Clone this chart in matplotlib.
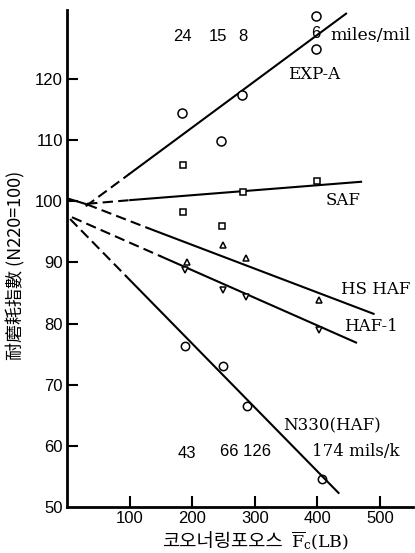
import matplotlib
matplotlib.use("Agg")
import matplotlib.pyplot as plt

# Measured wear-index points for each compound
exp_a_x = [184, 246, 280, 398, 398]
exp_a_y = [114.5, 109.8, 117.4, 130.4, 124.9]
saf_x = [186, 186, 248, 282, 400]
saf_y = [106.0, 98.3, 95.9, 101.5, 103.3]
hshaf_x = [192, 249, 286, 402]
hshaf_y = [90.1, 92.9, 90.7, 83.9]
haf1_x = [189, 250, 286, 402]
haf1_y = [88.8, 85.5, 84.4, 79.0]
n330_x = [189, 250, 287, 407]
n330_y = [76.3, 73.0, 66.5, 54.6]

# Fitted trend lines: dashed extrapolation part, then solid part
exp_a_dash_x, exp_a_dash_y = [30, 100], [99.2, 104.5]
exp_a_fit_x, exp_a_fit_y = [100, 446], [104.5, 130.7]
saf_dash_x, saf_dash_y = [32, 101], [99.6, 100.2]
saf_fit_x, saf_fit_y = [101, 470], [100.2, 103.2]
hshaf_lead_x, hshaf_lead_y = [0, 32], [100.5, 99.5]
hshaf_dash_x, hshaf_dash_y = [32, 130], [99.5, 95.6]
hshaf_fit_x, hshaf_fit_y = [130, 490], [95.6, 81.6]
haf1_dash_x, haf1_dash_y = [8, 150], [97.4, 91.0]
haf1_fit_x, haf1_fit_y = [150, 462], [91.0, 76.9]
n330_dash_x, n330_dash_y = [5, 95], [97.1, 87.7]
n330_fit_x, n330_fit_y = [95, 434], [87.7, 52.3]

x_ticks = [100, 200, 300, 400, 500]
y_ticks = [50, 60, 70, 80, 90, 100, 110, 120]

W, H = 415, 553
fig = plt.figure(figsize=(W / 100, H / 100), dpi=100)
ax = fig.add_axes([67 / W, 46 / H, 346 / W, 497 / H])
ax.set_xlim(0, 553)
ax.set_ylim(50, 131.3)

lw = 1.5
dash = (0, (5, 2.5))
for dx, dy, sx, sy in [
    (exp_a_dash_x, exp_a_dash_y, exp_a_fit_x, exp_a_fit_y),
    (saf_dash_x, saf_dash_y, saf_fit_x, saf_fit_y),
    (hshaf_dash_x, hshaf_dash_y, hshaf_fit_x, hshaf_fit_y),
    (haf1_dash_x, haf1_dash_y, haf1_fit_x, haf1_fit_y),
    (n330_dash_x, n330_dash_y, n330_fit_x, n330_fit_y),
]:
    ax.plot(dx, dy, color="black", lw=lw, linestyle=dash, zorder=2)
    ax.plot(sx, sy, color="black", lw=lw, zorder=2)
ax.plot(hshaf_lead_x, hshaf_lead_y, color="black", lw=lw, zorder=2)

mk = dict(color="black", linestyle="none", markeredgewidth=1.1, zorder=3)
ax.plot(exp_a_x, exp_a_y, marker="o", markersize=6.5, markerfacecolor="white", **mk)
ax.plot(saf_x, saf_y, marker="s", markersize=5, markerfacecolor="white", **mk)
ax.plot(hshaf_x, hshaf_y, marker="^", markersize=4.5, markerfacecolor="white", **mk)
ax.plot(haf1_x, haf1_y, marker="v", markersize=4.5, markerfacecolor="white", **mk)
ax.plot(n330_x, n330_y, marker="o", markersize=6, markerfacecolor="none", **mk)

for s in ["top", "right"]:
    ax.spines[s].set_visible(False)
for s in ["left", "bottom"]:
    ax.spines[s].set_linewidth(2)

sans = "Liberation Sans"
serif = "DejaVu Serif"

ax.set_xticks(x_ticks)
ax.set_xticklabels([str(v) for v in x_ticks], family=sans, fontsize=12)
ax.set_yticks(y_ticks)
ax.set_yticklabels([str(v) for v in y_ticks], family=sans, fontsize=12)
ax.tick_params(axis="x", direction="in", length=8, width=1.5, pad=3)
ax.tick_params(axis="y", direction="in", length=8, width=1.5, pad=3)
ax.yaxis.get_major_ticks()[0].tick1line.set_visible(False)

# Series names and slip-rate annotations
ax.text(184, 126.9, "24", family=sans, fontsize=12, ha="center", va="center")
ax.text(241.6, 126.9, "15", family=sans, fontsize=12, ha="center", va="center")
ax.text(281.6, 126.9, "8", family=sans, fontsize=12, ha="center", va="center")
ax.text(398, 127.4, "6", family=sans, fontsize=12, ha="center", va="center")
ax.text(421, 127.2, "miles/mil", family=serif, fontsize=12.5, ha="left", va="center")
ax.text(395, 120.8, "EXP-A", family=serif, fontsize=12, ha="center", va="center")
ax.text(441.6, 100.2, "SAF", family=serif, fontsize=12, ha="center", va="center")
ax.text(493, 85.5, "HS HAF", family=serif, fontsize=12, ha="center", va="center")
ax.text(485, 79.6, "HAF-1", family=serif, fontsize=12, ha="center", va="center")
ax.text(424, 63.3, "N330(HAF)", family=serif, fontsize=12, ha="center", va="center")
ax.text(461, 59.05, "174 mils/k", family=serif, fontsize=12, ha="center", va="center")
ax.text(192, 58.7, "43", family=sans, fontsize=12, ha="center", va="center")
ax.text(285, 59.05, "66 126", family=sans, fontsize=12, ha="center", va="center")

# Axis titles
fig.text(16 / W, 1 - 265 / H, "耐磨耗指數 (N220=100)", rotation=90,
         family=["Noto Sans CJK TC", "DejaVu Sans"], fontsize=13,
         ha="center", va="center")
fig.text(222 / W, 1 - 541 / H, "코오너링포오스",
         family=["Noto Sans CJK KR", "DejaVu Sans"], fontsize=13.5,
         ha="center", va="center")
plt.rcParams["mathtext.fontset"] = "dejavuserif"
fig.text(291 / W, 1 - 541 / H, r"$\overline{\mathrm{F}}_{\mathrm{c}}$(LB)",
         family=serif, fontsize=12.5, ha="left", va="center")

fig.savefig("out.png", dpi=100)
